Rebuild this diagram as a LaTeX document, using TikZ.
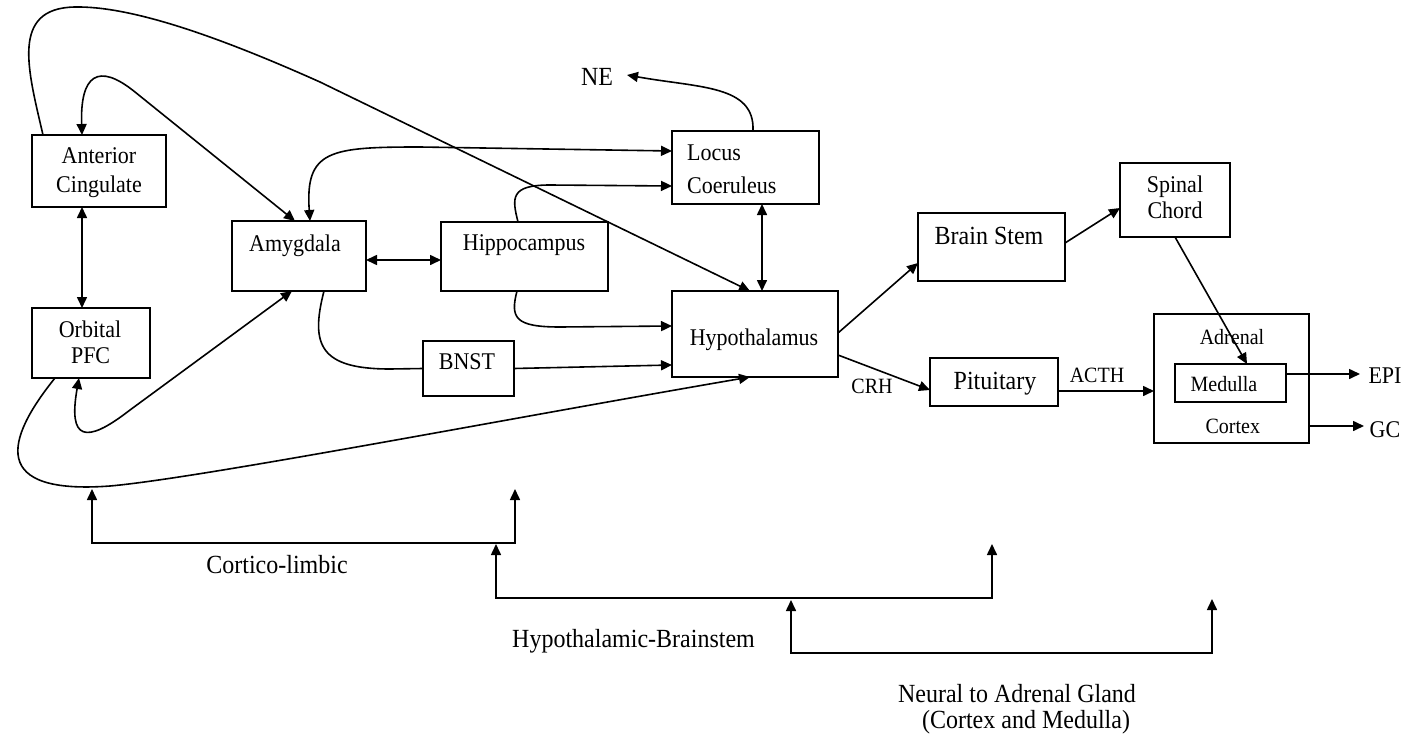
\documentclass[tikz,border=0pt]{standalone}
\usepackage{fontspec}
\setmainfont{Liberation Serif}
\usetikzlibrary{arrows.meta}
\newcommand\vstr[1]{\scalebox{1}[1.09]{#1}}
\begin{document}
\begin{tikzpicture}[x=1pt,y=-1pt,
 box/.style={draw,line width=1.7pt,rectangle,inner sep=0pt,outer sep=0pt},
 tA/.style={inner sep=0pt,anchor=base,font=\fontsize{22}{26}\selectfont},
 tB/.style={inner sep=0pt,anchor=base,font=\fontsize{24}{28}\selectfont},
 tC/.style={inner sep=0pt,anchor=base,font=\fontsize{20}{24}\selectfont},
 ln/.style={line width=1.6pt},
 ar/.style={ln,-{Triangle[length=11pt,width=10pt]}},
 biar/.style={ln,{Triangle[length=11pt,width=10pt]}-{Triangle[length=11pt,width=10pt]}}]
\useasboundingbox (0,0) rectangle (1422,736);
\fill[white] (0,0) rectangle (1422,736);
% boxes
\node[box,minimum width=134pt,minimum height=72pt] (ac) at (99,171) {};
\node[box,minimum width=134pt,minimum height=70pt] (amy) at (299,256) {};
\node[box,minimum width=167pt,minimum height=69pt] (hip) at (524.5,256.5) {};
\node[box,minimum width=147pt,minimum height=73pt] (lc) at (745.5,167.5) {};
\node[box,minimum width=166pt,minimum height=86pt] (hyp) at (755,334) {};
\node[box,minimum width=91pt,minimum height=55pt] (bnst) at (468.5,368.5) {};
\node[box,minimum width=118pt,minimum height=70pt] (pfc) at (91,343) {};
\node[box,minimum width=147pt,minimum height=68pt] (bs) at (991.5,247) {};
\node[box,minimum width=110pt,minimum height=74pt] (sc) at (1175,200) {};
\node[box,minimum width=128pt,minimum height=48pt] (pit) at (994,382) {};
\node[box,minimum width=155pt,minimum height=129pt] (adr) at (1231.5,378.5) {};
\node[box,minimum width=111pt,minimum height=38pt] (med) at (1230.5,383) {};
% labels
\node[tA] (acT1) at (99,163) {\vstr{Anterior}};
\node[tA] (acT2) at (99,192) {\vstr{Cingulate}};
\node[tA] (amyT) at (295,251) {\vstr{Amygdala}};
\node[tA] (hipT) at (524,250.7) {\vstr{Hippocampus}};
\node[tA,anchor=base west] (lcT1) at (687,160) {\vstr{Locus}};
\node[tA,anchor=base west] (lcT2) at (687,193) {\vstr{Coeruleus}};
\node[tA] (hypT) at (754,345.7) {\vstr{Hypothalamus}};
\node[tA] (bnstT) at (467,369) {\vstr{BNST}};
\node[tB] (neT) at (597,85) {\vstr{NE}};
\node[tA] (pfcT1) at (90,337) {\vstr{Orbital}};
\node[tA] (pfcT2) at (90.6,363) {\vstr{PFC}};
\node[tB] (bsT) at (989,244) {\vstr{Brain Stem}};
\node[tA] (scT1) at (1175,192) {\vstr{Spinal}};
\node[tA] (scT2) at (1175,218) {\vstr{Chord}};
\node[tB] (pitT) at (995,389) {\vstr{Pituitary}};
\node[tC] (acthT) at (1097,382) {\vstr{ACTH}};
\node[tC] (crhT) at (872,393) {\vstr{CRH}};
\node[tC] (adrT) at (1232,344) {\vstr{Adrenal}};
\node[tC] (medT) at (1224,391) {\vstr{Medulla}};
\node[tC] (corT) at (1232.8,433) {\vstr{Cortex}};
\node[tA] (epiT) at (1385,383) {\vstr{EPI}};
\node[tA] (gcT) at (1385,437) {\vstr{GC}};
\node[tB] (clT) at (277,573) {\vstr{Cortico-limbic}};
\node[tB] (hbT) at (633.5,647) {\vstr{Hypothalamic-Brainstem}};
\node[tB] (naT1) at (1017,702) {\vstr{Neural to Adrenal Gland}};
\node[tB] (naT2) at (1026,728) {\vstr{(Cortex and Medulla)}};
% curved connectors
\draw[ar] ([xshift=-56pt]ac.north) .. controls (28,70) and (10,8) .. (75,7) .. controls (130,6) and (215,35) .. (320,82) -- ([xshift=-5pt]hyp.north);
\draw[biar] ([xshift=-17pt]ac.north) .. controls (80,75) and (98,62) .. (135,92) -- ([xshift=-4pt]amy.north);
\draw[biar] ([xshift=11pt]amy.north) .. controls (305,150) and (330,147) .. (420,147) -- ([yshift=16.5pt]lc.west);
\draw[ar] ([xshift=-6.5pt]hip.north) .. controls (512,198) and (510,185) .. (550,185) -- ([yshift=-18.5pt]lc.west);
\draw[ar] ([xshift=-7.5pt]hip.south) .. controls (510,318) and (515,327) .. (560,327) -- ([yshift=8pt]hyp.west);
\draw[ln] ([xshift=25pt]amy.south) .. controls (310,345) and (320,369) .. (390,369) -- (bnst.west);
\draw[ar] (bnst.east) -- ([yshift=-31pt]hyp.west);
\draw[biar] ([xshift=-12pt]pfc.south) .. controls (68,440) and (85,445) .. (130,410) -- ([xshift=-7pt]amy.south);
\draw[ar] ([xshift=-36pt]pfc.south) .. controls (5,440) and (-10,495) .. (110,486) .. controls (200,478) and (500,420) .. ([xshift=-5pt]hyp.south);
\draw[biar] ([xshift=-17pt]ac.south) -- ([xshift=-9pt]pfc.north);
\draw[biar] ([yshift=-4pt]amy.east) -- ([yshift=-3.5pt]hip.west);
\draw[biar] ([xshift=16.5pt]lc.south) -- ([xshift=7pt]hyp.north);
\coordinate (neTip) at (627,75);
\draw[ar] ([xshift=7.5pt]lc.north) .. controls (755,85) and (700,88) .. (neTip);
% right side
\draw[ar] ([yshift=1pt]hyp.east) -- ([yshift=-16pt]bs.west);
\draw[ar] ([yshift=-21pt]hyp.east) -- ([yshift=-8pt]pit.west);
\draw[ar] ([yshift=4pt]bs.east) -- ([yshift=-8pt]sc.west);
\draw[ar] (sc.south) -- ([xshift=16.5pt]med.north);
\draw[ar] ([yshift=-9pt]pit.east) -- ([yshift=-12.5pt]adr.west);
\coordinate (epiTip) at (1360,374);
\draw[ar] ([yshift=9pt]med.east) -- (epiTip);
\coordinate (gcTip) at (1364,426);
\draw[ar] ([yshift=-47.5pt]adr.east) -- (gcTip);
% brackets
\coordinate (clL) at (92,489); \coordinate (clR) at (515,489);
\draw[biar] (clL) -- ++(0,54) -| (clR);
\coordinate (hbL) at (496,544); \coordinate (hbR) at (992,544);
\draw[biar] (hbL) -- ++(0,54) -| (hbR);
\coordinate (naL) at (791,600); \coordinate (naR) at (1212,599);
\draw[biar] (naL) -- ++(0,53) -| (naR);
\end{tikzpicture}
\end{document}
